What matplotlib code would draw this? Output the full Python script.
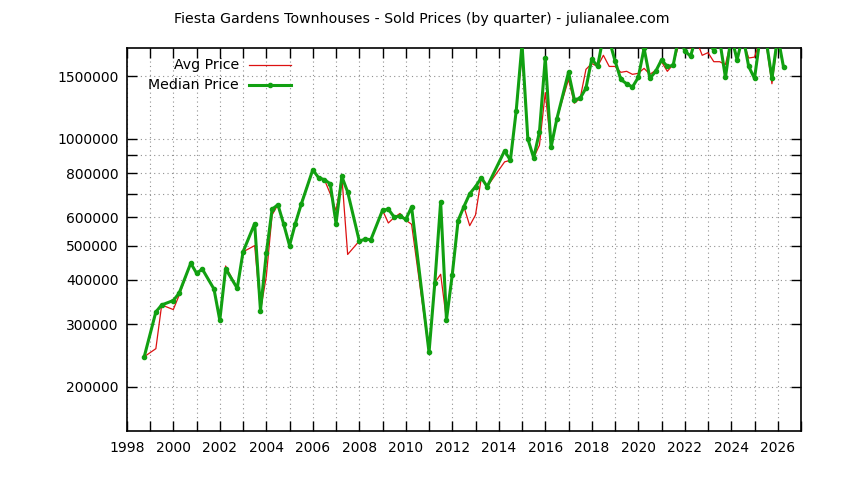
import matplotlib
matplotlib.use("Agg")
import matplotlib.pyplot as plt
from matplotlib.lines import Line2D
from matplotlib.ticker import FixedLocator, FixedFormatter, NullLocator

plt.rcParams['font.family'] = ['DejaVu Sans']

title = "Fiesta Gardens Townhouses - Sold Prices (by quarter) - julianalee.com"

quarters = [
    1998.75, 1999.25, 1999.5, 2000.0, 2000.25, 2000.75, 2001.0, 2001.25, 2001.75, 2002.0,
    2002.25, 2002.75, 2003.0, 2003.5, 2003.75, 2004.0, 2004.25, 2004.5, 2004.75, 2005.0,
    2005.25, 2005.5, 2006.0, 2006.25, 2006.5, 2006.75, 2007.0, 2007.25, 2007.5, 2008.0,
    2008.25, 2008.5, 2009.0, 2009.25, 2009.5, 2009.75, 2010.0, 2010.25, 2011.0, 2011.25,
    2011.5, 2011.75, 2012.0, 2012.25, 2012.5, 2012.75, 2013.0, 2013.25, 2013.5, 2014.25,
    2014.5, 2014.75, 2015.0, 2015.25, 2015.5, 2015.75, 2016.0, 2016.25, 2016.5, 2017.0,
    2017.25, 2017.5, 2017.75, 2018.0, 2018.25, 2018.5, 2018.75, 2019.0, 2019.25, 2019.5,
    2019.75, 2020.0, 2020.25, 2020.5, 2020.75, 2021.0, 2021.25, 2021.5, 2021.75, 2022.0,
    2022.25, 2022.5, 2022.75, 2023.0, 2023.25, 2023.5, 2023.75, 2024.0, 2024.25, 2024.5,
    2024.75, 2025.0, 2025.25, 2025.5, 2025.75, 2026.0, 2026.25,
]

median_price = [
    243000, 325000, 340000, 350000, 367000, 446000, 418000, 429000, 377000, 308000,
    430000, 379000, 480000, 577000, 328000, 475000, 633000, 652000, 574000, 500000,
    577000, 653000, 818000, 777000, 767000, 747000, 577000, 783000, 708000, 515000,
    521000, 520000, 629000, 633000, 602000, 605000, 593000, 642000, 250000, 393000,
    664000, 309000, 414000, 588000, 644000, 700000, 733000, 777000, 733000, 925000,
    870000, 1200000, 1850000, 1000000, 884000, 1046000, 1690000, 947000, 1140000, 1540000,
    1290000, 1300000, 1390000, 1680000, 1600000, 1950000, 1900000, 1660000, 1470000, 1430000,
    1400000, 1490000, 1800000, 1480000, 1550000, 1670000, 1600000, 1610000, 1950000, 1770000,
    1710000, 1950000, 1900000, 1900000, 1770000, 1900000, 1490000, 1950000, 1670000, 1950000,
    1600000, 1480000, 1950000, 1900000, 1480000, 1950000, 1590000,
]

avg_price = [
    243000, 256000, 340000, 330000, 362000, 446000, 418000, 429000, 377000, 308000,
    438000, 379000, 480000, 500000, 328000, 409000, 610000, 652000, 574000, 500000,
    577000, 660000, 818000, 777000, 767000, 700000, 627000, 783000, 472000, 515000,
    521000, 520000, 629000, 579000, 600000, 616000, 590000, 574000, 250000, 393000,
    415000, 309000, 420000, 588000, 644000, 569000, 610000, 777000, 733000, 861000,
    870000, 1200000, 1720000, 1000000, 884000, 960000, 1350000, 947000, 1140000, 1470000,
    1260000, 1300000, 1570000, 1630000, 1600000, 1720000, 1600000, 1600000, 1540000, 1550000,
    1520000, 1530000, 1580000, 1520000, 1560000, 1650000, 1550000, 1620000, 1850000, 1850000,
    1800000, 1900000, 1720000, 1750000, 1650000, 1650000, 1620000, 1900000, 1700000, 1900000,
    1690000, 1700000, 1900000, 1850000, 1430000, 1900000, 1590000,
]

ytick_vals = [200000, 300000, 400000, 500000, 600000, 700000, 800000, 900000, 1000000, 1500000]
ytick_labels = ["200000", "300000", "400000", "500000", "600000", "", "800000", "", "1000000", "1500000"]
xtick_vals = list(range(1998, 2028))
xtick_labels = [str(y) if y % 2 == 0 else "" for y in xtick_vals]

fig = plt.figure(figsize=(8.44, 4.80), dpi=100)
ax = fig.add_axes([126.8 / 844, 1 - 431 / 480, (801 - 126.8) / 844, (431 - 48.3) / 480])

red = '#dd1111'
green = '#11a011'

ax.plot(quarters, avg_price, color=red, lw=0.9, zorder=3)
ax.plot(quarters, median_price, color=green, lw=2.2, marker='o', ms=3.0, zorder=4)

ax.set_yscale('log')
ax.set_ylim(150000, 1800000)
ax.set_xlim(1998, 2027)

ax.yaxis.set_major_locator(FixedLocator(ytick_vals))
ax.yaxis.set_major_formatter(FixedFormatter(ytick_labels))
ax.yaxis.set_minor_locator(NullLocator())
ax.xaxis.set_major_locator(FixedLocator(xtick_vals))
ax.xaxis.set_major_formatter(FixedFormatter(xtick_labels))

ax.tick_params(axis='both', which='major', direction='in', length=7, width=1,
               top=True, right=True, labelsize=10, colors='black')
ax.tick_params(axis='y', pad=6)
ax.tick_params(axis='x', pad=7)

ax.grid(True, which='major', color='#909090', linestyle=(0, (1, 3)), linewidth=0.8)
ax.set_axisbelow(True)
for s in ax.spines.values():
    s.set_linewidth(1.2)

fig.text(0.5, 1 - 19 / 480, title, ha='center', va='center', fontsize=10.2)

# legend, gnuplot style (text right-aligned, sample to the right)
tx = 0.1664
ax.text(tx, 0.956, "Avg Price", transform=ax.transAxes, ha='right', va='center', fontsize=10.2)
ax.text(tx, 0.904, "Median Price", transform=ax.transAxes, ha='right', va='center', fontsize=10.2)
ax.add_line(Line2D([0.181, 0.2436], [0.956, 0.956], transform=ax.transAxes, color=red, lw=0.9))
ax.add_line(Line2D([0.181, 0.2436], [0.904, 0.904], transform=ax.transAxes, color=green, lw=2.2))
ax.add_line(Line2D([0.2123], [0.904], transform=ax.transAxes, color=green, marker='o', ms=3.0))

fig.savefig("out.png", dpi=100)
